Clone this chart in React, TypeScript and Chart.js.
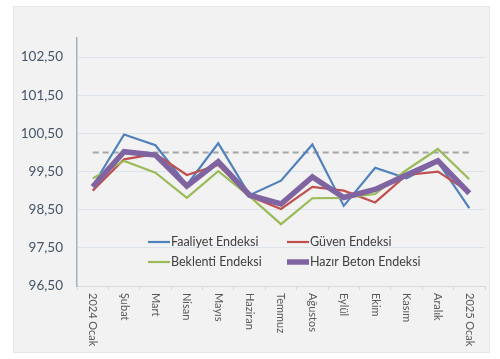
import React, { useEffect, useRef } from "react";
import { Chart, registerables } from "chart.js";

Chart.register(...registerables);

const categories = ["2024 Ocak", "Şubat", "Mart", "Nisan", "Mayıs", "Haziran", "Temmuz", "Ağustos", "Eylül", "Ekim", "Kasım", "Aralık", "2025 Ocak"];
const faaliyet = [99.12, 100.47, 100.19, 99.15, 100.24, 98.88, 99.26, 100.21, 98.6, 99.6, 99.32, 99.75, 98.54];
const guven = [99.0, 99.82, 99.96, 99.41, 99.67, 98.85, 98.52, 99.1, 99.0, 98.69, 99.41, 99.5, 98.96];
const beklenti = [99.32, 99.78, 99.47, 98.81, 99.51, 98.85, 98.12, 98.8, 98.81, 98.91, 99.54, 100.09, 99.3];
const hazirBeton = [99.1, 100.02, 99.93, 99.12, 99.76, 98.88, 98.65, 99.36, 98.82, 99.03, 99.41, 99.78, 98.93];
const reference = [100, 100, 100, 100, 100, 100, 100, 100, 100, 100, 100, 100, 100];
const yTicks = [96.5, 97.5, 98.5, 99.5, 100.5, 101.5, 102.5];

const FONT = "Lato, 'Open Sans', sans-serif";

const panelPlugin = {
  id: "panel",
  beforeDraw(chart: any) {
    const ctx = chart.ctx;
    ctx.save();
    ctx.fillStyle = "#ffffff";
    ctx.fillRect(0, 0, chart.width, chart.height);
    ctx.fillStyle = "#f2f2f2";
    ctx.fillRect(13, 6, 476, 346);
    ctx.strokeStyle = "#e2e6ea";
    ctx.lineWidth = 1;
    ctx.strokeRect(13.5, 6.5, 476, 346);
    ctx.restore();
  },
  afterDraw(chart: any) {
    const ctx = chart.ctx;
    const xScale = chart.scales.x;
    ctx.save();
    ctx.fillStyle = "#595959";
    ctx.font = `11px ${FONT}`;
    ctx.textAlign = "left";
    ctx.textBaseline = "middle";
    const labels = chart.data.labels as string[];
    labels.forEach((lab, i) => {
      const x = xScale.getPixelForTick(i);
      ctx.save();
      ctx.translate(x, xScale.top + 7);
      ctx.rotate(Math.PI / 2);
      ctx.fillText(lab, 0, 0);
      ctx.restore();
    });
    // legend
    const items = [
      { ds: 0, lx: 148, ly: 242 },
      { ds: 1, lx: 287, ly: 242 },
      { ds: 2, lx: 148, ly: 262 },
      { ds: 3, lx: 287, ly: 262 },
    ];
    ctx.font = `12.5px ${FONT}`;
    ctx.fillStyle = "#404040";
    items.forEach((it) => {
      const d: any = chart.data.datasets[it.ds];
      ctx.beginPath();
      ctx.strokeStyle = d.borderColor;
      ctx.lineWidth = d.borderWidth;
      ctx.lineCap = "butt";
      ctx.moveTo(it.lx, it.ly);
      ctx.lineTo(it.lx + 22, it.ly);
      ctx.stroke();
      ctx.fillText(d.label, it.lx + 23, it.ly);
    });
    ctx.restore();
  },
};

export default function App() {
  const ref = useRef<HTMLCanvasElement>(null);
  useEffect(() => {
    if (!ref.current) return;
    const chart = new Chart(ref.current, {
      type: "line",
      data: {
        labels: categories,
        datasets: [
          { label: "Faaliyet Endeksi", data: faaliyet, borderColor: "#4f81bd", borderWidth: 2.2, pointRadius: 0, order: 3, tension: 0 },
          { label: "Güven Endeksi", data: guven, borderColor: "#c0504d", borderWidth: 2.2, pointRadius: 0, order: 2, tension: 0 },
          { label: "Beklenti Endeksi", data: beklenti, borderColor: "#9bbb59", borderWidth: 2.2, pointRadius: 0, order: 1, tension: 0 },
          { label: "Hazır Beton Endeksi", data: hazirBeton, borderColor: "#8064a2", borderWidth: 5.5, pointRadius: 0, order: 0, tension: 0 },
          { label: "Referans", data: reference, borderColor: "#a6a6a6", borderWidth: 2, borderDash: [6, 4], pointRadius: 0, order: 4, tension: 0 },
        ],
      },
      options: {
        animation: false,
        responsive: false,
        maintainAspectRatio: false,
        layout: { padding: { left: 0, top: 38, right: 15, bottom: 0 } },
        plugins: { legend: { display: false }, tooltip: { enabled: false } },
        scales: {
          x: {
            offset: true,
            ticks: { display: false },
            grid: { display: true, drawOnChartArea: false, drawTicks: true, tickLength: 4, color: "#d9d9d9", offset: true },
            border: { color: "#d9d9d9", width: 1 },
            afterFit: (scale: any) => { scale.height = 359 - 286; },
          },
          y: {
            min: 96.5,
            max: 103,
            afterBuildTicks: (scale: any) => { scale.ticks = yTicks.map((v) => ({ value: v })); },
            afterFit: (scale: any) => { scale.width = 77; },
            ticks: {
              padding: 14,
              color: "#44546a",
              font: { family: FONT, size: 13.5 },
              callback: (v: any) => Number(v).toFixed(2).replace(".", ","),
            },
            grid: { color: "#dde3ea", drawTicks: false, lineWidth: 1 },
            border: { color: "#9fb3c8", width: 1.5 },
          },
        },
      },
      plugins: [panelPlugin],
    });
    return () => chart.destroy();
  }, []);
  return (
    <div style={{ position: "absolute", left: 0, top: 0, width: 500, height: 359 }}>
      <canvas ref={ref} width={500} height={359} style={{ width: 500, height: 359 }} />
    </div>
  );
}
